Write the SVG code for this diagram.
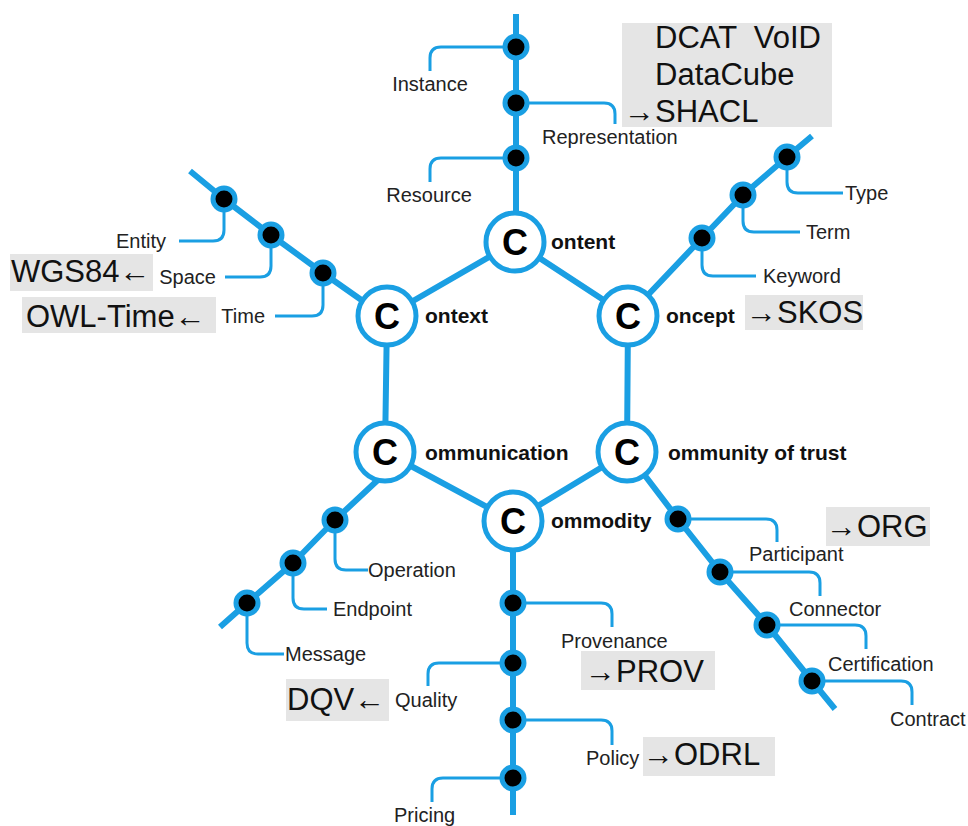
<svg xmlns="http://www.w3.org/2000/svg" width="968" height="826" viewBox="0 0 968 826">
<style>
.main{fill:none;stroke:#1a9fe3;stroke-width:6;stroke-linejoin:round}
.br{fill:none;stroke:#1a9fe3;stroke-width:3}
.dot{fill:#000;stroke:#1a9fe3;stroke-width:5}
.hub{fill:#fff;stroke:#1a9fe3;stroke-width:5}
.c{font-family:"Liberation Sans",Arial,sans-serif;font-weight:bold;font-size:36px;fill:#000;text-anchor:middle}
.bl{font-family:"Liberation Sans",Arial,sans-serif;font-weight:bold;font-size:21px;fill:#111}
.lb{font-family:"Liberation Sans",Arial,sans-serif;font-size:20px;fill:#222}
.box{fill:#e5e5e5}
.big{font-family:"Liberation Sans",Arial,sans-serif;font-size:31px;fill:#111;white-space:pre}
</style>
<rect width="968" height="826" fill="#fff"/>
<g id="connectors">
<path class="main" d="M516,14 V214"/>
<path class="main" d="M190,171 L224,199 L271,235 L323,273 L387,318"/>
<path class="main" d="M812,136 L787,157 L743,195 L702,238 L628,316"/>
<path class="main" d="M220,627 L247,603 L293,563 L335,520 L380,478"/>
<path class="main" d="M627,452 L678,519 L720,572 L767,625 L812,681 L835,709"/>
<path class="main" d="M513,521 V815"/>
<path class="main" d="M515,242 L387,316 L385,452 L513,521 L627,452 L628,316 Z"/>
<path class="br" d="M516,47 H441 Q430,47 430,58 V71"/>
<path class="br" d="M516,103 H604 Q615,103 615,114 V124"/>
<path class="br" d="M516,158 H441 Q430,158 430,169 V182"/>
<path class="br" d="M224,199 V230 Q224,241 213,241 H179"/>
<path class="br" d="M271,235 V266 Q271,277 260,277 H225"/>
<path class="br" d="M323,273 V305 Q323,316 312,316 H275"/>
<path class="br" d="M787,157 V182 Q787,193 798,193 H843"/>
<path class="br" d="M743,195 V221 Q743,232 754,232 H800"/>
<path class="br" d="M702,238 V265 Q702,276 713,276 H756"/>
<path class="br" d="M335,520 V559 Q335,570 346,570 H368"/>
<path class="br" d="M293,563 V598 Q293,609 304,609 H327"/>
<path class="br" d="M247,603 V643 Q247,654 258,654 H284"/>
<path class="br" d="M513,603 H601 Q612,603 612,614 V627"/>
<path class="br" d="M513,663 H439 Q428,663 428,674 V686"/>
<path class="br" d="M513,720 H601 Q612,720 612,731 V745"/>
<path class="br" d="M513,778 H443 Q432,778 432,789 V802"/>
<path class="br" d="M678,519 H766 Q777,519 777,530 V542"/>
<path class="br" d="M720,572 H809 Q820,572 820,583 V596"/>
<path class="br" d="M767,625 H855 Q866,625 866,636 V649"/>
<path class="br" d="M812,681 H901 Q912,681 912,692 V705"/>
</g>
<g id="content"><circle class="hub" cx="515" cy="242" r="29"/><text class="c" x="515" y="255">C</text><text class="bl" x="551" y="249">ontent</text></g>
<g id="context"><circle class="hub" cx="387" cy="316" r="29"/><text class="c" x="387" y="329">C</text><text class="bl" x="425" y="323">ontext</text></g>
<g id="concept"><circle class="hub" cx="628" cy="316" r="29"/><text class="c" x="628" y="329">C</text><text class="bl" x="666" y="323">oncept</text></g>
<g id="communication"><circle class="hub" cx="385" cy="452" r="29"/><text class="c" x="385" y="465">C</text><text class="bl" x="425" y="460">ommunication</text></g>
<g id="community"><circle class="hub" cx="627" cy="452" r="29"/><text class="c" x="627" y="465">C</text><text class="bl" x="668" y="460">ommunity of trust</text></g>
<g id="commodity"><circle class="hub" cx="513" cy="521" r="29"/><text class="c" x="513" y="534">C</text><text class="bl" x="551" y="528">ommodity</text></g>
<g id="instance"><circle class="dot" cx="516" cy="47" r="11"/><text class="lb" x="430" y="91" text-anchor="middle">Instance</text></g>
<g id="representation"><circle class="dot" cx="516" cy="103" r="11"/><text class="lb" x="542" y="144">Representation</text></g>
<g id="resource"><circle class="dot" cx="516" cy="158" r="11"/><text class="lb" x="429" y="202" text-anchor="middle">Resource</text></g>
<g id="dcat"><rect class="box" x="622" y="23" width="210" height="104"/><text class="big" x="655" y="48">DCAT  VoID</text><text class="big" x="655" y="85">DataCube</text><text class="big" x="624" y="122">→SHACL</text></g>
<g id="entity"><circle class="dot" cx="224" cy="199" r="11"/><text class="lb" x="166" y="248" text-anchor="end">Entity</text></g>
<g id="space"><circle class="dot" cx="271" cy="235" r="11"/><text class="lb" x="216" y="284" text-anchor="end">Space</text></g>
<g id="time"><circle class="dot" cx="323" cy="273" r="11"/><text class="lb" x="265" y="323" text-anchor="end">Time</text></g>
<g id="wgs84"><rect class="box" x="10" y="254" width="143" height="37"/><text class="big" x="11" y="282">WGS84←</text></g>
<g id="owltime"><rect class="box" x="22" y="297" width="194" height="36"/><text class="big" x="26" y="327">OWL-Time←</text></g>
<g id="type"><circle class="dot" cx="787" cy="157" r="11"/><text class="lb" x="845" y="200">Type</text></g>
<g id="term"><circle class="dot" cx="743" cy="195" r="11"/><text class="lb" x="806" y="239">Term</text></g>
<g id="keyword"><circle class="dot" cx="702" cy="238" r="11"/><text class="lb" x="763" y="283">Keyword</text></g>
<g id="skos"><rect class="box" x="745" y="295" width="118" height="35"/><text class="big" x="746" y="323">→SKOS</text></g>
<g id="operation"><circle class="dot" cx="335" cy="520" r="11"/><text class="lb" x="368" y="577">Operation</text></g>
<g id="endpoint"><circle class="dot" cx="293" cy="563" r="11"/><text class="lb" x="333" y="616">Endpoint</text></g>
<g id="message"><circle class="dot" cx="247" cy="603" r="11"/><text class="lb" x="285" y="661">Message</text></g>
<g id="provenance"><circle class="dot" cx="513" cy="603" r="11"/><text class="lb" x="561" y="648">Provenance</text></g>
<g id="quality"><circle class="dot" cx="513" cy="663" r="11"/><text class="lb" x="395" y="707">Quality</text></g>
<g id="policy"><circle class="dot" cx="513" cy="720" r="11"/><text class="lb" x="586" y="765">Policy</text></g>
<g id="pricing"><circle class="dot" cx="513" cy="778" r="11"/><text class="lb" x="394" y="822">Pricing</text></g>
<g id="prov"><rect class="box" x="581" y="651" width="134" height="39"/><text class="big" x="585" y="682">→PROV</text></g>
<g id="dqv"><rect class="box" x="286" y="679" width="103" height="42"/><text class="big" x="287" y="710">DQV←</text></g>
<g id="odrl"><rect class="box" x="643" y="737" width="132" height="39"/><text class="big" x="643" y="765">→ODRL</text></g>
<g id="participant"><circle class="dot" cx="678" cy="519" r="11"/><text class="lb" x="749" y="561">Participant</text></g>
<g id="connector"><circle class="dot" cx="720" cy="572" r="11"/><text class="lb" x="789" y="616">Connector</text></g>
<g id="certification"><circle class="dot" cx="767" cy="625" r="11"/><text class="lb" x="828" y="671">Certification</text></g>
<g id="contract"><circle class="dot" cx="812" cy="681" r="11"/><text class="lb" x="890" y="726">Contract</text></g>
<g id="org"><rect class="box" x="826" y="507" width="104" height="39"/><text class="big" x="826" y="537">→ORG</text></g>
</svg>
